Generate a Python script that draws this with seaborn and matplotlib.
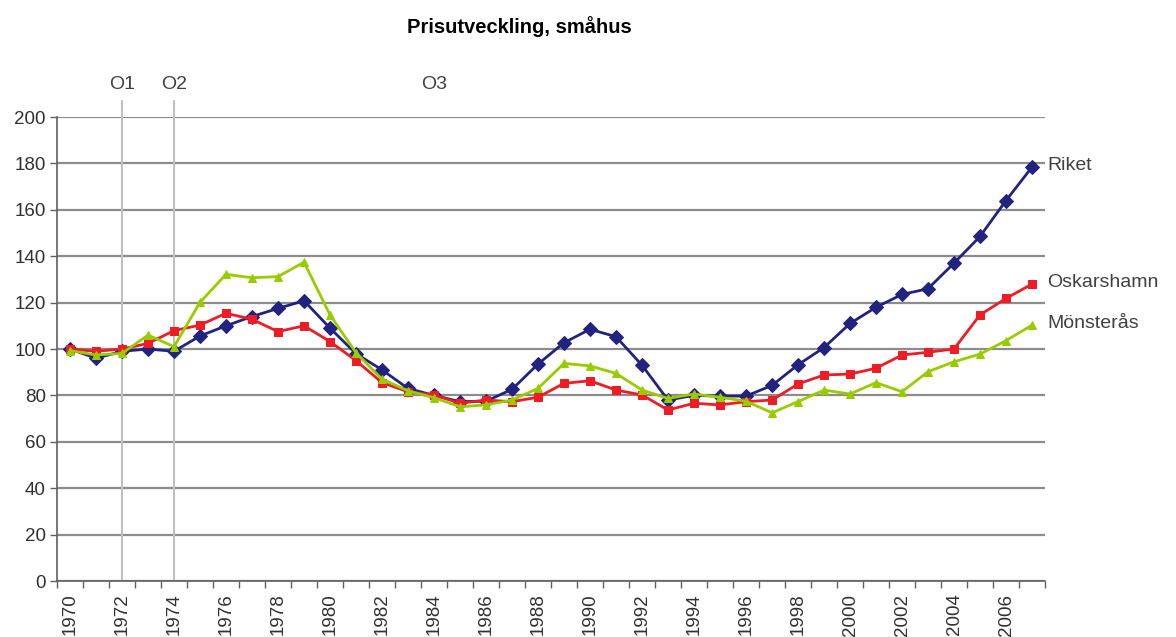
import matplotlib
matplotlib.use("Agg")
import matplotlib.pyplot as plt
import seaborn as sns
import pandas as pd
from matplotlib.ticker import FixedLocator, NullFormatter

years = list(range(1970, 2008))
riket = [100, 96, 99, 100, 99, 105.6, 110, 114, 117.5, 120.8,
         109, 98, 91, 83, 80, 77.3, 77.5, 82.6, 93.5, 102.7,
         108.5, 105.3, 93, 78, 80, 79.7, 79.7, 84.3, 93.2, 100.6,
         111, 118, 123.5, 126, 137, 148.5, 164, 178.4]
oskarshamn = [100, 99, 100, 102.4, 107.9, 110.3, 115.4, 112.8, 107.5, 110,
              103.2, 95, 85.5, 81.6, 80.2, 76.6, 78, 77.3, 79.2, 85.2,
              86.3, 82.3, 80.2, 73.7, 76.6, 75.9, 77.3, 78, 84.9, 88.8,
              89.2, 91.7, 97.4, 98.6, 100, 114.7, 121.8, 128]
monsteras = [99.3, 97.4, 98.1, 106, 101, 120.1, 132.2, 130.7, 131.2, 137.4,
             114.7, 98.4, 87, 82, 79, 75.1, 75.9, 78, 83, 93.8,
             92.7, 89.5, 82.3, 78.7, 80.6, 79.2, 77.5, 72.5, 77.3, 82.3,
             80.6, 85.5, 81.6, 90.2, 94.5, 97.8, 103.6, 110.3]
series_names = ["Riket", "Oskarshamn", "Mönsterås"]
event_labels = ["O1", "O2", "O3"]
event_years = [1972, 1974, 1984]
event_lines = [True, True, False]
title = "Prisutveckling, småhus"

df = pd.concat([
    pd.DataFrame({"År": years, "Index": vals, "Serie": name})
    for name, vals in zip(series_names, [riket, oskarshamn, monsteras])
])

sns.set_theme(style="white")
plt.rcParams["font.family"] = ["Liberation Sans", "DejaVu Sans"]

fig = plt.figure(figsize=(11.76, 6.37), dpi=100)
ax = fig.add_axes([57/1176, 1 - 581/637, (1045 - 57)/1176, (581 - 117)/637])

colors = {"Riket": "#22227F", "Oskarshamn": "#EE1C25", "Mönsterås": "#99CC00"}
markers = {"Riket": "D", "Oskarshamn": "s", "Mönsterås": "^"}
sizes = {"Riket": 7, "Oskarshamn": 6, "Mönsterås": 6}

# event lines
for lab, yr, draw in zip(event_labels, event_years, event_lines):
    if draw:
        ax.plot([yr, yr], [0, 207], color="#C0C0C0", lw=1.5, clip_on=False, zorder=1)
    ax.text(yr, 214, lab, ha="center", va="center", fontsize=14, color="#404040")

for name in series_names:
    sub = df[df["Serie"] == name]
    sns.lineplot(data=sub, x="År", y="Index", ax=ax, color=colors[name],
                 marker=markers[name], markersize=sizes[name],
                 markeredgecolor=colors[name], lw=2, zorder=3, legend=False)
    ax.text(years[-1] + 0.6, sub["Index"].iloc[-1] + 0.5, name, ha="left", va="center",
            fontsize=14, color="#404040")

ax.set_xlim(1969.5, 2007.5)
ax.set_ylim(0, 200)
ax.set_yticks(range(0, 201, 20))
ax.set_yticklabels([str(v) for v in range(0, 201, 20)], fontsize=13.5, color="#303030")
ax.set_xticks(years[::2])
ax.set_xticklabels([str(y) for y in years[::2]], rotation=90, fontsize=13.5, color="#303030")
ax.xaxis.set_minor_locator(FixedLocator([1969.5 + k for k in range(len(years) + 1)]))
ax.xaxis.set_minor_formatter(NullFormatter())
ax.tick_params(axis="x", which="major", length=0, pad=9)
ax.tick_params(axis="x", which="minor", length=5, width=1, color="#606060", direction="out", bottom=True)
ax.tick_params(axis="y", which="major", length=5, width=1, color="#606060", direction="out", left=True, pad=3)

ax.grid(axis="y", color="#8C8C8C", lw=1.6)
ax.grid(axis="x", visible=False)
ax.set_axisbelow(True)
for s in ["top", "right"]:
    ax.spines[s].set_visible(False)
for s in ["left", "bottom"]:
    ax.spines[s].set_color("#606060")
    ax.spines[s].set_linewidth(1.2)
ax.set_xlabel("")
ax.set_ylabel("")

fig.text(519/1176, 1 - 27/637, title, ha="center", va="center", fontsize=14.5, fontweight="bold", color="#000000")

fig.savefig("out.png", dpi=100)
